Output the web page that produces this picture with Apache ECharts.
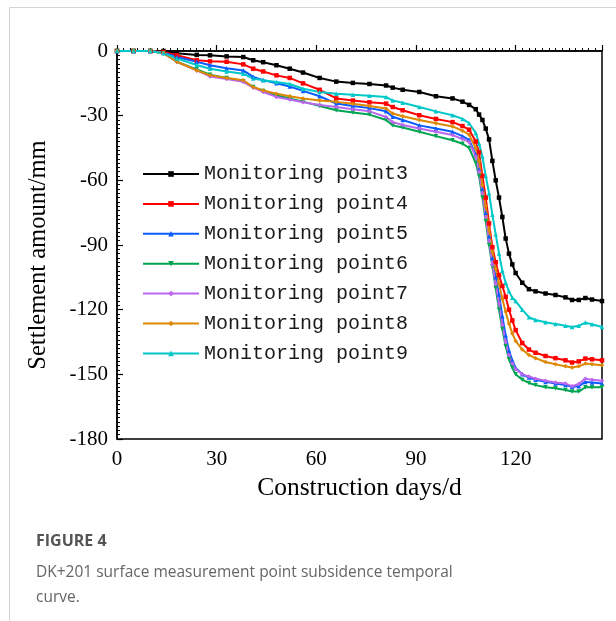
<!DOCTYPE html>
<html>
<head>
<meta charset="utf-8">
<script src="https://cdn.jsdelivr.net/npm/echarts@6/dist/echarts.min.js"></script>
<style>
  html, body { margin: 0; padding: 0; background: #fff; }
  #main { width: 616px; height: 621px; }
</style>
</head>
<body>
<div id="main"></div>
<script>
'use strict';
// construction day of each reading
const days = [0, 5, 10, 14, 18, 24, 28, 33, 38, 41, 44, 48, 52, 56, 61, 66, 71, 76, 81, 83, 86, 91, 96, 101, 104, 106, 108, 109, 110, 111, 112, 113, 114, 115, 116, 117, 118, 119, 120, 122, 124, 126, 129, 132, 135, 137, 139, 141, 143, 146];

// settlement (mm) per monitoring point
const point3 = [0, 0, 0, 0, -1, -1.8, -2, -2.5, -2.8, -4.3, -5.2, -6.6, -8.2, -10, -12.5, -14.2, -14.8, -15.3, -16, -17, -18, -19, -21, -22, -23.5, -25, -27, -29.5, -32, -36, -41, -51, -60, -68, -77, -87, -94, -99, -103, -107.5, -110.5, -111.5, -112.5, -113.2, -114.3, -115.5, -115.5, -114.6, -115.3, -116];
const point4 = [0, 0, 0, -0.5, -2, -4.3, -4.8, -5, -6.2, -8.2, -9.5, -11.3, -12.5, -15, -18, -22, -23, -23.8, -24.4, -26, -27.5, -29.8, -31.5, -33, -34.8, -36.5, -42, -47, -58, -68, -80, -91, -98, -104, -109, -114, -120, -125, -129.5, -135.5, -138.5, -140, -141.5, -142.5, -143.5, -144.5, -144, -142.7, -143, -143.5];
const point5 = [0, 0, 0, -0.8, -2.8, -5, -6.6, -8, -9, -12, -13.5, -15, -16.5, -18.5, -21, -24.4, -25.5, -26.5, -28, -30.5, -32, -34.5, -36, -37.5, -39.5, -41.2, -48, -55, -64, -75, -86, -96, -105, -113, -123, -132, -139, -143.5, -147, -150, -151.5, -152.5, -153.5, -154.3, -155, -155.8, -155.5, -153.5, -153.8, -154.3];
const point6 = [0, 0, 0, -1, -5, -8.5, -11, -12.5, -14, -16.7, -18.5, -20.5, -22, -23.5, -25.5, -27.5, -28.5, -29.5, -32, -34.5, -35.5, -37.5, -39.5, -41.4, -43, -45, -52, -58, -68, -79, -90, -100, -110, -120, -129, -137, -143, -147, -150, -152.5, -154, -155, -156, -156.5, -157.3, -158, -158, -156, -156, -156];
const point7 = [0, 0, 0, -1, -5, -9, -11.8, -13, -14.3, -17, -19, -21.3, -22.5, -23.8, -25, -26, -27, -28, -30.6, -33, -34.3, -36, -37.5, -39, -40.8, -42.2, -49, -56, -66, -77, -88, -99, -108, -117, -127, -135, -141, -145, -147.5, -150, -151, -152, -153, -153.8, -154.3, -155.5, -154.5, -152, -152.5, -153];
const point8 = [0, 0, 0, -1, -5, -9, -11.3, -12.5, -13.6, -16.7, -18.3, -19.8, -21, -22, -23, -23.6, -24.5, -25.5, -26.7, -29, -30.3, -32, -33.5, -35, -37, -38.8, -45, -51, -62, -72, -83, -93, -101, -108, -115, -121, -126.5, -131, -134.5, -138.5, -141, -142.5, -144.3, -145.3, -146.3, -146.8, -146.3, -145, -145.3, -145.8];
const point9 = [0, 0, 0, -1, -3.5, -6.5, -8.2, -9.5, -10.5, -12.8, -13.6, -14.4, -15.3, -17.5, -19, -19.8, -20.3, -20.8, -21.3, -23, -24, -26, -28, -29.8, -31.5, -33.5, -38, -43, -49, -58, -66, -76, -85, -94, -102, -107.5, -111.5, -114.5, -116, -120, -123.5, -124.8, -125.8, -126.7, -127.5, -128, -127.5, -126, -126.8, -128];

const names = ['Monitoring point3', 'Monitoring point4', 'Monitoring point5', 'Monitoring point6', 'Monitoring point7', 'Monitoring point8', 'Monitoring point9'];
const values = [point3, point4, point5, point6, point7, point8, point9];
const colors = ['#000000', '#ff0000', '#0a5cff', '#00a552', '#bb66ee', '#dd8800', '#00c8c8'];
const symbols = ['rect', 'rect', 'triangle', 'triangle', 'diamond', 'diamond', 'triangle'];
const rotates = [0, 0, 0, 180, 0, 0, 0];

const serif = 'Liberation Serif';

let chart = echarts.init(document.getElementById('main'), null, { renderer: 'canvas' });

let series = names.map((n, k) => ({
  name: n,
  type: 'line',
  data: days.map((d, i) => [d, values[k][i]]),
  symbol: symbols[k],
  symbolRotate: rotates[k],
  symbolSize: 4.5,
  color: colors[k],
  lineStyle: { width: 2, color: colors[k] },
  itemStyle: { color: colors[k] },
  animation: false
}));

let axisCommon = {
  type: 'value',
  axisLine: { show: true, lineStyle: { color: '#000', width: 1.5 } },
  axisTick: { show: true, inside: true, length: 6, lineStyle: { color: '#000', width: 1.2 } },
  minorTick: { show: true, splitNumber: 15, length: 3, lineStyle: { color: '#000', width: 1 } },
  splitLine: { show: false },
  minorSplitLine: { show: false }
};

chart.setOption({
  animation: false,
  grid: {
    left: 117, top: 51, right: 14, bottom: 182,
    show: true, borderColor: '#000', borderWidth: 1.5
  },
  legend: {
    orient: 'vertical',
    left: 142,
    top: 164,
    padding: 0,
    itemWidth: 56,
    itemHeight: 7,
    itemGap: 9.9,
    data: names,
    textStyle: { fontFamily: 'Liberation Mono', fontSize: 20, lineHeight: 20, color: '#1a1a1a' }
  },
  xAxis: Object.assign({}, axisCommon, {
    min: 0, max: 146, interval: 30,
    axisLabel: { fontFamily: serif, fontSize: 21, color: '#000', margin: 10, showMaxLabel: false },
    name: 'Construction days/d',
    nameLocation: 'middle',
    nameGap: 35,
    nameTextStyle: { fontFamily: serif, fontSize: 25.5, color: '#000' }
  }),
  yAxis: Object.assign({}, axisCommon, {
    min: -180, max: 0, interval: 30,
    axisLabel: { fontFamily: serif, fontSize: 21, color: '#000', margin: 9 },
    name: 'Settlement amount/mm',
    nameLocation: 'middle',
    nameGap: 66,
    nameRotate: 90,
    nameTextStyle: { fontFamily: serif, fontSize: 24.5, color: '#000', padding: [0, 20, 0, 0] }
  }),
  graphic: [
    { type: 'line', shape: { x1: 9.5, y1: 7.5, x2: 9.5, y2: 621 }, style: { stroke: '#d4d4d4', lineWidth: 1 } },
    { type: 'line', shape: { x1: 9.5, y1: 7.5, x2: 616, y2: 7.5 }, style: { stroke: '#d4d4d4', lineWidth: 1 } },
    { type: 'text', left: 36, top: 533, style: { text: 'FIGURE 4', font: 'bold 16px "Open Sans"', fill: '#555' } },
    { type: 'text', left: 36, top: 565, style: { text: 'DK+201 surface measurement point subsidence temporal', font: '15.5px "Open Sans"', fill: '#666' } },
    { type: 'text', left: 36, top: 590, style: { text: 'curve.', font: '15.5px "Open Sans"', fill: '#666' } }
  ],
  series: series
});
</script>
</body>
</html>
